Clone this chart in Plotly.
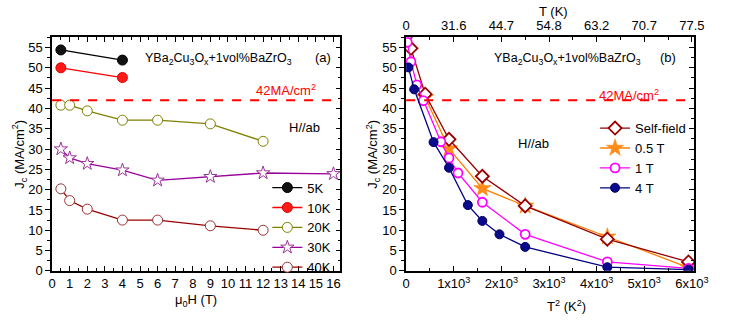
import plotly.graph_objects as go

# ---------------- data: panel (a) ----------------
H_5K = [0.5, 4]
Jc_5K = [54.4, 51.9]
H_10K = [0.5, 4]
Jc_10K = [50.0, 47.6]
H_20K = [0.5, 1, 2, 4, 6, 9, 12]
Jc_20K = [40.8, 40.8, 39.4, 37.1, 37.1, 36.2, 31.9]
H_30K = [0.5, 1, 2, 4, 6, 9, 12, 16]
Jc_30K = [30.0, 27.8, 26.4, 24.8, 22.3, 23.2, 24.1, 23.9]
H_40K = [0.5, 1, 2, 4, 6, 9, 12]
Jc_40K = [20.2, 17.3, 15.2, 12.5, 12.5, 11.1, 10.0]

# ---------------- data: panel (b) ----------------
T2_sf = [25, 100, 400, 900, 1600, 2500, 4225, 5929]
Jc_sf = [58.0, 54.8, 43.5, 32.4, 23.3, 16.0, 7.8, 2.2]
T2_05 = [400, 900, 1600, 2500, 4225, 5929]
Jc_05 = [42.7, 30.1, 20.3, 16.0, 8.4, 0.8]
T2_1 = [25, 100, 225, 361, 729, 900, 1089, 1600, 2500, 4225, 5929]
Jc_1 = [56.3, 51.5, 45.8, 41.9, 31.8, 27.8, 24.1, 16.9, 9.0, 2.2, 0.6]
T2_4 = [49, 169, 576, 900, 1296, 1600, 1960, 2500, 4225, 5929]
Jc_4 = [50.1, 44.7, 31.7, 25.4, 16.2, 12.3, 9.0, 5.9, 0.9, 0.3]

threshold = 42  # MA/cm^2
T2_ticks = [0, 1000, 2000, 3000, 4000, 5000, 6000]
T2_ticklabels = ["0", "1x10<sup>3</sup>", "2x10<sup>3</sup>", "3x10<sup>3</sup>",
                 "4x10<sup>3</sup>", "5x10<sup>3</sup>", "6x10<sup>3</sup>"]
T_ticklabels = ["0", "31.6", "44.7", "54.8", "63.2", "70.7", "77.5"]

FONT = "Liberation Sans, Arial, sans-serif"
fig = go.Figure()

# panel (a)
fig.add_trace(go.Scatter(x=H_5K, y=Jc_5K, name="5K", mode="lines+markers",
    line=dict(color="black", width=1.3),
    marker=dict(symbol="circle", size=10, color="#111111", line=dict(color="black", width=1)),
    xaxis="x", yaxis="y", legend="legend", legendrank=1))
fig.add_trace(go.Scatter(x=H_10K, y=Jc_10K, name="10K", mode="lines+markers",
    line=dict(color="#ff0000", width=1.3),
    marker=dict(symbol="circle", size=10, color="#ff1a1a", line=dict(color="#e00000", width=1)),
    xaxis="x", yaxis="y", legend="legend", legendrank=2))
fig.add_trace(go.Scatter(x=H_20K, y=Jc_20K, name="20K", mode="lines+markers",
    line=dict(color="#808000", width=1.3),
    marker=dict(symbol="circle", size=10, color="white", line=dict(color="#808000", width=1)),
    xaxis="x", yaxis="y", legend="legend", legendrank=3))
fig.add_trace(go.Scatter(x=H_30K, y=Jc_30K, name="30K", mode="lines+markers",
    line=dict(color="#990099", width=1.3),
    marker=dict(symbol="star", size=10, color="white", line=dict(color="#993399", width=1)),
    xaxis="x", yaxis="y", legend="legend", legendrank=4))
fig.add_trace(go.Scatter(x=H_40K, y=Jc_40K, name="40K", mode="lines+markers",
    line=dict(color="#990000", width=1.3),
    marker=dict(symbol="circle", size=10, color="white", line=dict(color="#993333", width=1)),
    xaxis="x", yaxis="y", legend="legend", legendrank=5))

# panel (b) -- orange drawn first so the diamonds sit on top
fig.add_trace(go.Scatter(x=T2_05, y=Jc_05, name="0.5 T", mode="lines+markers",
    line=dict(color="#ff8000", width=1.3),
    marker=dict(symbol="star", size=13, color="#ff8c1a", line=dict(color="#ff8000", width=0.5)),
    xaxis="x2", yaxis="y2", legend="legend2", legendrank=2))
fig.add_trace(go.Scatter(x=T2_sf, y=Jc_sf, name="Self-field", mode="lines+markers",
    line=dict(color="#990000", width=1.3),
    marker=dict(symbol="diamond", size=10, color="white", line=dict(color="#990000", width=1.8)),
    xaxis="x2", yaxis="y2", legend="legend2", legendrank=1))
fig.add_trace(go.Scatter(x=T2_1, y=Jc_1, name="1 T", mode="lines+markers",
    line=dict(color="#ff00ff", width=1.3),
    marker=dict(symbol="circle", size=9, color="white", line=dict(color="#ff00ff", width=1.8)),
    xaxis="x2", yaxis="y2", legend="legend2", legendrank=3))
fig.add_trace(go.Scatter(x=T2_4, y=Jc_4, name="4 T", mode="lines+markers",
    line=dict(color="#000080", width=1.3),
    marker=dict(symbol="circle", size=9, color="#0a0a8c", line=dict(color="#000060", width=1)),
    xaxis="x2", yaxis="y2", legend="legend2", legendrank=4))

# empty traces for mirror axes
for xa, ya in (("x3", "y3"), ("x4", "y4")):
    fig.add_trace(go.Scatter(x=[], y=[], xaxis=xa, yaxis=ya, showlegend=False, hoverinfo="skip"))

dx1 = [49.3 / 730, 345.0 / 730]
dx2 = [412.3 / 730, 707.7 / 730]
dy = [1 - 277.7 / 325, 1 - 38.3 / 325]
YR = [0, 57.5]
XR1 = [0, 16.4]
XR2 = [0, 6050]

tickfont = dict(family=FONT, size=13, color="black")
common = dict(showline=True, linecolor="black", linewidth=1.5, showgrid=False,
              zeroline=False, ticklen=5, tickwidth=1.3, tickcolor="black", tickfont=tickfont)
minor = dict(ticklen=3, tickwidth=1.1, tickcolor="black", showgrid=False)

fig.update_layout(
    width=730, height=325, margin=dict(l=0, r=0, t=0, b=0),
    paper_bgcolor="white", plot_bgcolor="white",
    font=dict(family=FONT, size=13, color="black"),
    xaxis=dict(domain=dx1, range=XR1, anchor="y", ticks="inside", dtick=1, tick0=0,
               minor=dict(dtick=0.5, ticks="inside", **minor), **common),
    yaxis=dict(domain=dy, range=YR, anchor="x", ticks="outside", dtick=5, tick0=0,
               minor=dict(dtick=2.5, ticks="outside", **minor), **common),
    xaxis3=dict(overlaying="x", range=XR1, anchor="y3", side="top", ticks="inside", dtick=1,
                tick0=0, showticklabels=False,
                minor=dict(dtick=0.5, ticks="inside", **minor), **common),
    yaxis3=dict(overlaying="y", range=YR, anchor="x3", side="right", ticks="inside", dtick=5,
                tick0=0, showticklabels=False,
                minor=dict(dtick=2.5, ticks="inside", **minor), **common),
    xaxis2=dict(domain=dx2, range=XR2, anchor="y2", ticks="inside", tickmode="array",
                tickvals=T2_ticks, ticktext=T2_ticklabels,
                minor=dict(dtick=500, tick0=0, ticks="inside", **minor), **common),
    yaxis2=dict(domain=dy, range=YR, anchor="x2", ticks="outside", dtick=5, tick0=0,
                minor=dict(dtick=2.5, ticks="outside", **minor), **common),
    xaxis4=dict(overlaying="x2", range=XR2, anchor="y4", side="top", ticks="inside",
                tickmode="array", tickvals=T2_ticks, ticktext=T_ticklabels,
                minor=dict(dtick=500, tick0=0, ticks="inside", **minor), **common),
    yaxis4=dict(overlaying="y2", range=YR, anchor="x4", side="right", ticks="inside", dtick=5,
                tick0=0, showticklabels=False,
                minor=dict(dtick=2.5, ticks="inside", **minor), **common),
    legend=dict(x=270 / 730, y=1 - 177 / 325, xanchor="left", yanchor="top",
                bgcolor="rgba(0,0,0,0)", font=dict(family=FONT, size=13),
                tracegroupgap=0, itemwidth=30, traceorder="normal"),
    legend2=dict(x=606 / 730, y=1 - 116 / 325, xanchor="left", yanchor="top",
                 bgcolor="rgba(0,0,0,0)", font=dict(family=FONT, size=13),
                 tracegroupgap=0, itemwidth=30, traceorder="normal"),
    showlegend=True,
)

# threshold lines
for xr, yr in (("x domain", "y"), ("x2 domain", "y2")):
    fig.add_shape(type="line", xref=xr, yref=yr, x0=0, x1=1, y0=threshold, y1=threshold,
                  line=dict(color="#ff0000", width=2, dash="dash"))

ann = []
def A(x, y, text, size=13, color="black", angle=0, xanchor="center"):
    ann.append(dict(x=x / 730, y=1 - y / 325, xref="paper", yref="paper", text=text,
                    showarrow=False, textangle=angle, xanchor=xanchor, yanchor="middle",
                    font=dict(family=FONT, size=size, color=color)))

formula = "YBa<sub>2</sub>Cu<sub>3</sub>O<sub>x</sub>+1vol%BaZrO<sub>3</sub>"
A(220, 60, formula, 12.5)
A(327, 59, "(a)", 13)
A(289, 92, "42MA/cm<sup>2</sup>", 13, "#ff0000")
A(308, 131, "H//ab", 13)
A(197, 308, "μ<sub>0</sub>H (T)", 13)
A(16, 158, "J<sub>c</sub> (MA/cm<sup>2</sup>)", 13, angle=-90)

A(578, 60, formula, 12.5)
A(681, 59, "(b)", 13)
A(641, 97, "42MA/cm<sup>2</sup>", 13, "#ff0000")
A(543, 147, "H//ab", 13)
A(577, 314, "T<sup>2</sup> (K<sup>2</sup>)", 13)
A(563, 12, "T (K)", 13)
A(378, 158, "J<sub>c</sub> (MA/cm<sup>2</sup>)", 13, angle=-90)

fig.update_layout(annotations=ann)
fig.write_html("out.html")
